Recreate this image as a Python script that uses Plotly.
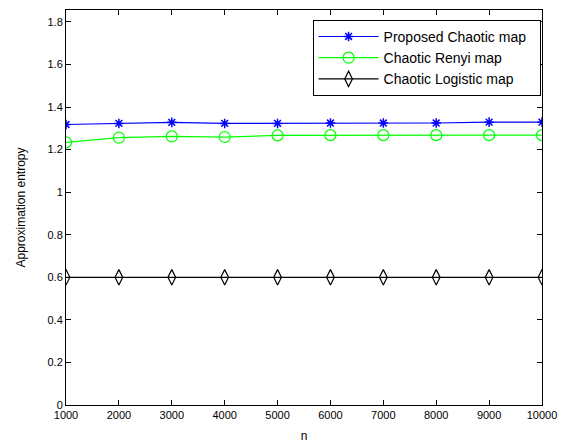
import plotly.graph_objects as go

n_values = [1000, 2000, 3000, 4000, 5000, 6000, 7000, 8000, 9000, 10000]
proposed = [1.318, 1.323, 1.328, 1.323, 1.323, 1.325, 1.325, 1.325, 1.329, 1.329]
renyi = [1.234, 1.256, 1.262, 1.259, 1.267, 1.268, 1.268, 1.268, 1.268, 1.268]
logistic = [0.6, 0.6, 0.6, 0.6, 0.6, 0.6, 0.6, 0.6, 0.6, 0.6]
x_ticks = [1000, 2000, 3000, 4000, 5000, 6000, 7000, 8000, 9000, 10000]
x_tick_labels = ["1000", "2000", "3000", "4000", "5000", "6000", "7000", "8000", "9000", "10000"]
y_ticks = [0, 0.2, 0.4, 0.6, 0.8, 1, 1.2, 1.4, 1.6, 1.8]
y_tick_labels = ["0", "0.2", "0.4", "0.6", "0.8", "1", "1.2", "1.4", "1.6", "1.8"]
series_names = ["Proposed Chaotic map", "Chaotic Renyi map", "Chaotic Logistic map"]

FONT = "Liberation Sans, Arial"
PAD = "\u00a0\u00a0"

fig = go.Figure()
fig.add_trace(go.Scatter(x=n_values, y=proposed, mode="lines+markers",
                         name=series_names[0] + PAD,
                         line=dict(color="#0000ff", width=1.2),
                         marker=dict(symbol="asterisk-open", size=8,
                                     line=dict(color="#0000ff", width=1.5))))
fig.add_trace(go.Scatter(x=n_values, y=renyi, mode="lines+markers",
                         name=series_names[1] + PAD,
                         line=dict(color="#00ff00", width=1.2),
                         marker=dict(symbol="circle-open", size=11,
                                     line=dict(color="#00ff00", width=1.2))))
fig.add_trace(go.Scatter(x=n_values, y=logistic, mode="lines+markers",
                         name=series_names[2] + PAD,
                         line=dict(color="#000000", width=1.2),
                         marker=dict(symbol="diamond-tall-open", size=11,
                                     line=dict(color="#000000", width=1.2))))

axis_common = dict(showline=True, linecolor="black", linewidth=1, mirror="ticks",
                   ticks="inside", ticklen=5, tickcolor="black", showgrid=False,
                   zeroline=False, automargin=False,
                   tickfont=dict(family=FONT, size=11, color="black"))

fig.update_xaxes(range=[1000, 10000], tickvals=x_ticks, ticktext=x_tick_labels,
                 title=dict(text="n", font=dict(family=FONT, size=12, color="black"), standoff=11),
                 **axis_common)
fig.update_yaxes(range=[0, 1.856], tickvals=y_ticks, ticktext=y_tick_labels,
                 title=dict(text="Approximation entropy", font=dict(family=FONT, size=12, color="black"), standoff=19),
                 **axis_common)

fig.update_layout(
    width=571, height=445,
    margin=dict(l=66, r=29, t=10, b=40),
    paper_bgcolor="white", plot_bgcolor="white",
    font=dict(family=FONT, size=12, color="black"),
    legend=dict(x=0.997, y=0.975, xanchor="right", yanchor="top",
                bordercolor="black", borderwidth=1, bgcolor="white",
                font=dict(family=FONT, size=14), tracegroupgap=0, itemwidth=60),
    showlegend=True,
)

fig.write_html("out.html", config={"displayModeBar": False},
               post_script="document.body.style.margin='0';document.body.style.overflow='hidden';")
